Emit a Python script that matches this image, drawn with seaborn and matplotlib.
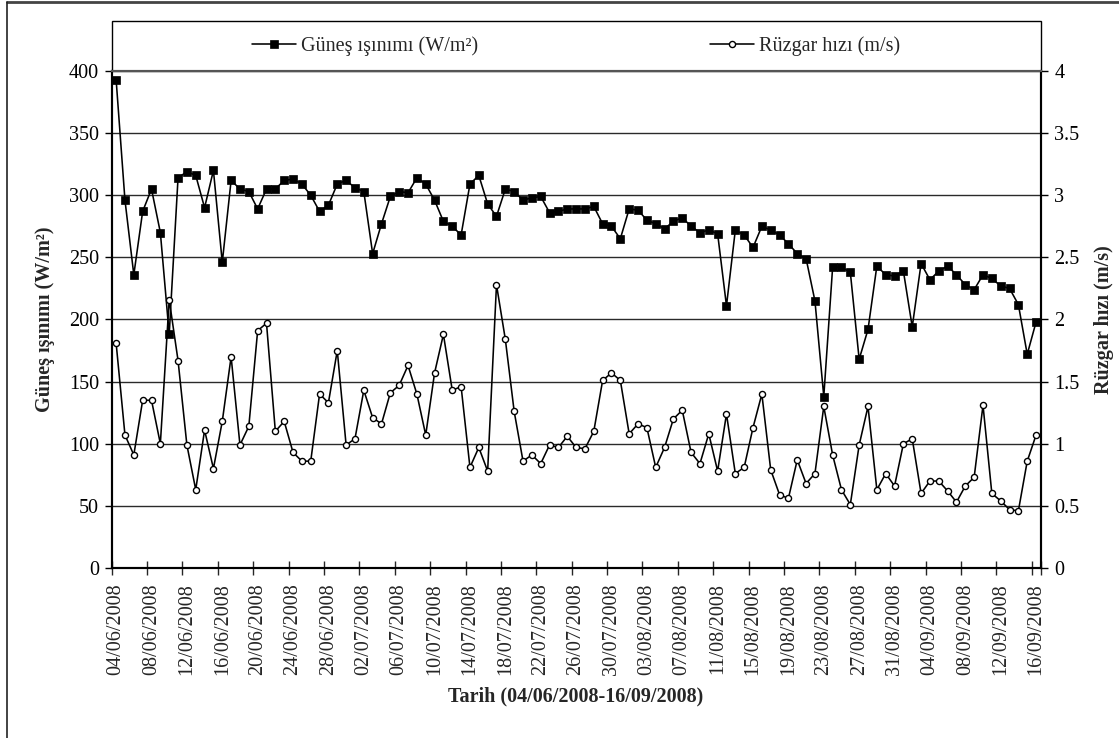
import numpy as np
import pandas as pd
import matplotlib
matplotlib.use("Agg")
import matplotlib.pyplot as plt
from matplotlib.lines import Line2D
from matplotlib.patches import Rectangle
import seaborn as sns

# ---------------- data ----------------
dates = pd.date_range("2008-06-04", "2008-09-16", freq="D")
date_labels = [d.strftime("%d/%m/%Y") for d in dates]

solar = [393, 296, 236, 287, 305, 270, 188, 314, 319, 316,
         290, 320, 246, 312, 305, 303, 289, 305, 305, 312,
         313, 309, 300, 287, 292, 309, 312, 306, 303, 253,
         277, 299, 303, 302, 314, 309, 296, 279, 275, 268,
         309, 316, 293, 283, 305, 303, 296, 298, 299, 286,
         287, 289, 289, 289, 291, 277, 275, 265, 289, 288,
         280, 277, 273, 279, 282, 275, 270, 272, 269, 211,
         272, 268, 258, 275, 272, 268, 261, 253, 249, 215,
         138, 242, 242, 238, 168, 192, 243, 236, 235, 239,
         194, 245, 232, 239, 243, 236, 228, 224, 236, 233,
         227, 225, 212, 172, 198]

wind = [1.81, 1.07, 0.91, 1.35, 1.35, 1.00, 2.16, 1.67, 0.99, 0.63,
        1.11, 0.80, 1.18, 1.70, 0.99, 1.14, 1.91, 1.97, 1.10, 1.18,
        0.93, 0.86, 0.86, 1.40, 1.33, 1.75, 0.99, 1.04, 1.43, 1.21,
        1.16, 1.41, 1.47, 1.63, 1.40, 1.07, 1.57, 1.88, 1.43, 1.46,
        0.81, 0.97, 0.78, 2.28, 1.84, 1.26, 0.86, 0.91, 0.84, 0.99,
        0.97, 1.06, 0.97, 0.96, 1.10, 1.51, 1.57, 1.51, 1.08, 1.16,
        1.13, 0.81, 0.97, 1.20, 1.27, 0.93, 0.84, 1.08, 0.78, 1.24,
        0.76, 0.81, 1.13, 1.40, 0.79, 0.59, 0.56, 0.87, 0.68, 0.76,
        1.30, 0.91, 0.63, 0.51, 0.99, 1.30, 0.63, 0.76, 0.66, 1.00,
        1.04, 0.60, 0.70, 0.70, 0.62, 0.53, 0.66, 0.73, 1.31, 0.60,
        0.54, 0.47, 0.46, 0.86, 1.07]

solar_label = "Güneş ışınımı (W/m²)"
wind_label = "Rüzgar hızı (m/s)"
x_title = "Tarih (04/06/2008-16/09/2008)"
left_ticks = [0, 50, 100, 150, 200, 250, 300, 350, 400]
right_ticks = [0, 0.5, 1, 1.5, 2, 2.5, 3, 3.5, 4]
right_tick_labels = ["0", "0.5", "1", "1.5", "2", "2.5", "3", "3.5", "4"]

df = pd.DataFrame({"idx": np.arange(len(dates)), "solar": solar, "wind": wind})

# ---------------- style ----------------
sns.set_style("ticks")
plt.rcParams["font.family"] = ["Liberation Serif", "DejaVu Serif"]
plt.rcParams["mathtext.fontset"] = "custom"

W, H = 1119, 738
fig = plt.figure(figsize=(W / 100, H / 100), dpi=100)
x0, x1 = 111.7, 1040.5
y_top, y_bot = 71, 568
ax = fig.add_axes([x0 / W, 1 - y_bot / H, (x1 - x0) / W, (y_bot - y_top) / H])
ax2 = ax.twinx()

lw = 1.15
sns.lineplot(data=df, x="idx", y="solar", ax=ax, color="black", lw=lw,
             marker="s", markersize=5.4, markerfacecolor="black",
             markeredgecolor="black", markeredgewidth=0.5, label=solar_label,
             legend=False, zorder=5)
sns.lineplot(data=df, x="idx", y="wind", ax=ax2, color="black", lw=lw,
             marker="o", markersize=4.4, markerfacecolor="white",
             markeredgecolor="black", markeredgewidth=1.0, label=wind_label,
             legend=False, zorder=5)

n = len(dates)
ax.set_xlim(-0.5, n - 0.5)
ax.set_ylim(0, 400)
ax2.set_ylim(0, 4)

# gridlines
for v in left_ticks[1:-1]:
    ax.axhline(v, color="#2a2a2a", lw=1.0, zorder=1)

# y ticks
ax.set_yticks(left_ticks)
ax.set_yticklabels([str(v) for v in left_ticks], fontsize=14.5)
ax2.set_yticks(right_ticks)
ax2.set_yticklabels(right_tick_labels, fontsize=14.5)
ax.tick_params(axis="y", direction="out", length=5, width=1, pad=4, colors="black")
ax2.tick_params(axis="y", direction="out", length=5, width=1, pad=5, colors="black")

# x ticks: boundaries as major ticks, labels at category centres
label_pos = list(range(0, n, 4))
ax.set_xticks([p - 0.5 for p in label_pos] + [n - 0.5])
ax.set_xticklabels([])
ax.set_xticks(label_pos, minor=True)
ax.set_xticklabels([date_labels[p] for p in label_pos], minor=True,
                   rotation=90, fontsize=14.5)
ax.tick_params(axis="x", which="major", direction="inout", length=10, width=1)
ax.tick_params(axis="x", which="minor", length=0, pad=11)
ax.set_xlabel(x_title, fontsize=14.5, fontweight="bold", labelpad=8)
ax.set_ylabel(solar_label, fontsize=14.5, fontweight="bold", labelpad=10)
ax2.set_ylabel(wind_label, fontsize=14.5, fontweight="bold", labelpad=10)
ax2.set_xlabel("")

for a in (ax, ax2):
    for s in ("left", "right", "bottom"):
        a.spines[s].set_color("black")
        a.spines[s].set_linewidth(1.5)
    a.spines["top"].set_color("#555555")
    a.spines["top"].set_linewidth(1.5)

# legend box above plot
box_h = (y_top - 21) / (y_bot - y_top)
ax.add_patch(Rectangle((0, 1), 1, box_h, transform=ax.transAxes, fill=False,
                       edgecolor="black", lw=1.0, clip_on=False))
handles = [ax.get_lines()[0], ax2.get_lines()[0]]
fig.legend(handles, [solar_label, wind_label], loc="center",
           bbox_to_anchor=(((x0 + x1) / 2) / W, 1 - 46 / H), ncol=2,
           frameon=False, fontsize=14.5, handlelength=2.2, handletextpad=0.25,
           columnspacing=11.5)

# partial outer frame of the figure
fig.add_artist(Line2D([7 / W, 1], [1 - 2 / H, 1 - 2 / H], color="#444444", lw=2,
                      transform=fig.transFigure))
fig.add_artist(Line2D([7 / W, 7 / W], [0, 1 - 2 / H], color="#222222", lw=1.2,
                      transform=fig.transFigure))

fig.savefig("out.png", dpi=100)
